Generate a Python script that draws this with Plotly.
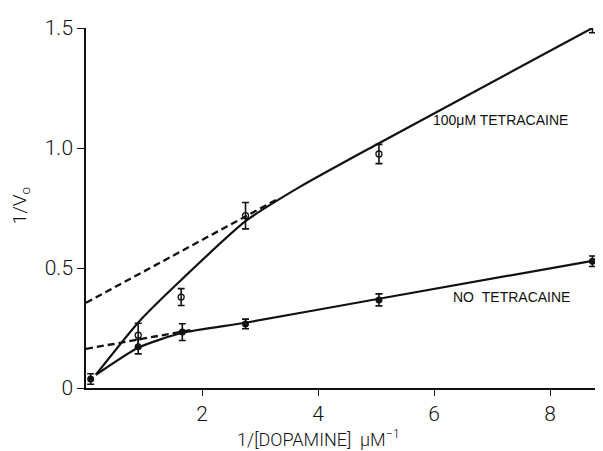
import plotly.graph_objects as go

# Measured data points (1/[dopamine], 1/V0, error)
tet_x = [0.9, 1.64, 2.75, 5.05, 8.73]
tet_y = [0.22, 0.379, 0.718, 0.975, 1.504]
tet_err = [0.05, 0.035, 0.055, 0.04, 0.024]

no_x = [0.08, 0.9, 1.66, 2.75, 5.05, 8.73]
no_y = [0.0375, 0.172, 0.233, 0.267, 0.367, 0.528]
no_err = [0.022, 0.03, 0.035, 0.02, 0.025, 0.022]

# Fitted curves (solid)
tet_fit_x = [0.17, 0.92, 1.64, 2.75, 3.7, 5.05, 8.73]
tet_fit_y = [0.055, 0.278, 0.45, 0.695, 0.84, 1.02, 1.50]
no_fit_x = [0.17, 0.9, 1.66, 2.75, 5.05, 8.73]
no_fit_y = [0.055, 0.168, 0.23, 0.272, 0.372, 0.53]

# Extrapolated linear parts (dashed)
tet_dash_x = [0.0, 3.3]
tet_dash_y = [0.355, 0.787]
no_dash_x = [0.0, 1.8]
no_dash_y = [0.163, 0.241]

x_ticks = [2, 4, 6, 8]
y_ticks = [0, 0.5, 1.0, 1.5]
y_tick_text = ["0", "0.5", "1.0", "1.5"]

FONT = "Roboto, Liberation Sans, Arial, sans-serif"
BLACK = "#111111"

fig = go.Figure()

for dx, dy in [(tet_dash_x, tet_dash_y), (no_dash_x, no_dash_y)]:
    fig.add_trace(go.Scatter(x=dx, y=dy, mode="lines",
                             line=dict(color=BLACK, width=2.3, dash="7px,4px"),
                             hoverinfo="skip", showlegend=False))

for fx, fy in [(tet_fit_x, tet_fit_y), (no_fit_x, no_fit_y)]:
    fig.add_trace(go.Scatter(x=fx, y=fy, mode="lines",
                             line=dict(color=BLACK, width=2.2, shape="spline", smoothing=0.6),
                             hoverinfo="skip", showlegend=False))

fig.add_trace(go.Scatter(
    x=tet_x, y=tet_y, mode="markers", cliponaxis=False,
    marker=dict(symbol="circle-open", size=6, color=BLACK, line=dict(width=1.3, color=BLACK)),
    error_y=dict(type="data", array=tet_err, visible=True, color=BLACK, thickness=1.6, width=3.5),
    showlegend=False))

fig.add_trace(go.Scatter(
    x=no_x, y=no_y, mode="markers", cliponaxis=False,
    marker=dict(symbol="circle", size=7, color=BLACK),
    error_y=dict(type="data", array=no_err, visible=True, color=BLACK, thickness=1.6, width=3.5),
    showlegend=False))

fig.add_annotation(x=7.15, y=1.117, text="100μM TETRACAINE", showarrow=False,
                   font=dict(family="Liberation Sans, Arial, sans-serif", size=14, color=BLACK))
fig.add_annotation(x=7.33, y=0.379, text="NO\u00a0\u00a0TETRACAINE", showarrow=False,
                   font=dict(family="Liberation Sans, Arial, sans-serif", size=14, color=BLACK))

# Axis titles
fig.add_annotation(xref="paper", yref="paper", x=0.442, y=-0.178,
                   xanchor="center", yanchor="bottom",
                   text="1/[DOPAMINE]  μM<sup>−1</sup>", showarrow=False,
                   font=dict(family=FONT, size=18, color=BLACK, weight=300))
fig.add_annotation(xref="paper", yref="paper", x=-0.124, y=0.507,
                   xanchor="center", yanchor="middle",
                   text="1/V<sub>o</sub>", showarrow=False, textangle=-90,
                   font=dict(family=FONT, size=19, color=BLACK, weight=300))

fig.update_layout(
    width=603, height=451,
    margin=dict(l=78, r=0, t=20, b=71),
    paper_bgcolor="white", plot_bgcolor="white",
    font=dict(family=FONT, color=BLACK),
    xaxis=dict(range=[0, 9.05], tickvals=x_ticks, ticks="outside", ticklen=6,
               tickwidth=1.2, tickcolor=BLACK, showline=True, linecolor=BLACK, linewidth=1.5,
               showgrid=False, zeroline=False,
               tickfont=dict(family=FONT, size=21, color=BLACK, weight=300)),
    yaxis=dict(range=[0, 1.5], tickvals=y_ticks, ticktext=y_tick_text, ticks="outside",
               ticklen=7, tickwidth=1.2, tickcolor=BLACK, showline=True, linecolor=BLACK,
               linewidth=1.5, showgrid=False, zeroline=False,
               tickfont=dict(family=FONT, size=21, color=BLACK, weight=300)),
)

fig.write_html("out.html")
